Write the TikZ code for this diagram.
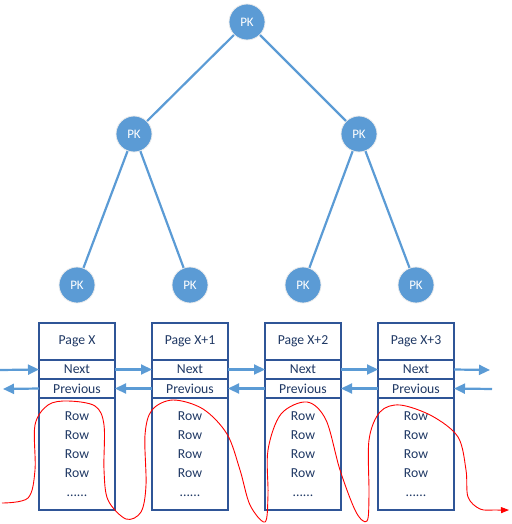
\documentclass[tikz,border=0pt]{standalone}
\usepackage{fontspec}
\setmainfont{Carlito}
\usetikzlibrary{arrows.meta, positioning}

\definecolor{pkblue}{HTML}{5B9BD5}
\definecolor{boxline}{HTML}{2F5597}
\definecolor{boxtext}{HTML}{1F3864}

\begin{document}
\begin{tikzpicture}[x=1pt, y=-1pt,
    pknode/.style={circle, fill=pkblue, draw=white!85!gray, line width=0.8pt,
        minimum size=36pt, inner sep=0pt, text=white, font=\fontsize{13}{15}\selectfont},
    treeedge/.style={pkblue, line width=2.2pt},
    field/.style={draw=boxline, fill=white, line width=1.3pt, minimum width=76pt,
        inner sep=0pt, outer sep=0pt, text=boxtext, font=\fontsize{13.7}{19}\selectfont},
    link/.style={pkblue, line width=2.2pt, -{Triangle[length=11pt, width=10pt]}},
]

    % Define parameters for easy adjustment
    \def\leafY{285}       % Row of the leaf keys
    \def\boxTop{323}      % Top of the page boxes

    \useasboundingbox (0,0) rectangle (511,524);

    % 1. The index tree
    \node[pknode] (root) at (247,22) {PK};
    \node[pknode] (midL) at (134,134) {PK};
    \node[pknode] (midR) at (359,134) {PK};
    \foreach \i/\x in {1/77, 2/190, 3/303, 4/416} {
        \node[pknode] (leaf\i) at (\x,\leafY) {PK};
    }
    \draw[treeedge] (root) -- (midL);
    \draw[treeedge] (root) -- (midR);
    \draw[treeedge] (midL) -- (leaf1);
    \draw[treeedge] (midL) -- (leaf2);
    \draw[treeedge] (midR) -- (leaf3);
    \draw[treeedge] (midR) -- (leaf4);

    % 2. The data pages
    \foreach \i/\x/\lab in {1/77/X, 2/190/X+1, 3/303/X+2, 4/416/X+3} {
        \node[field, minimum height=37pt] (page\i) at (\x,\boxTop+18.5) {Page \lab};
        \node[field, minimum height=19pt, below=0pt of page\i] (next\i) {Next};
        \node[field, minimum height=19pt, below=0pt of next\i] (prev\i) {Previous};
        \node[field, minimum height=112pt, below=0pt of prev\i, align=center] (rows\i)
            {Row\\Row\\Row\\Row\\......};
    }

    % 3. The links between the pages
    \coordinate (inNext) at (0,370);
    \coordinate (outPrev) at (3,389);
    \coordinate (outNext) at (490,370);
    \coordinate (inPrev) at (492,389);
    \draw[link] (inNext) -- (next1.west);
    \draw[link] (prev1.west) -- (outPrev);
    \foreach \i/\j in {1/2, 2/3, 3/4} {
        \draw[link] (next\i.east) -- (next\j.west);
        \draw[link] (prev\j.west) -- (prev\i.east);
    }
    \draw[link] (next4.east) -- (outNext);
    \draw[link] (inPrev) -- (prev4.east);

    % 4. The scan through the rows
    \draw[red, line width=0.9pt, -{Triangle[length=8pt, width=6pt]}]
        plot[smooth, tension=0.55] coordinates {
        (2,503) (28,498) (35,470) (35,425) (48,405) (68,401) (95,406) (104,425)
        (104,470) (108,500) (126,519) (141,512) (146,485) (145,435) (152,410)
        (173,400) (203,409) (227,434) (240,470) (250,505) (265,522) (268,495)
        (268,450) (281,414) (307,402) (326,420) (340,470) (356,512) (367,521)
        (369,495) (369,440) (380,412) (400,405) (432,416) (458,437) (466,470)
        (468,497) (480,509) (495,510) (509,510)};
\end{tikzpicture}
\end{document}
